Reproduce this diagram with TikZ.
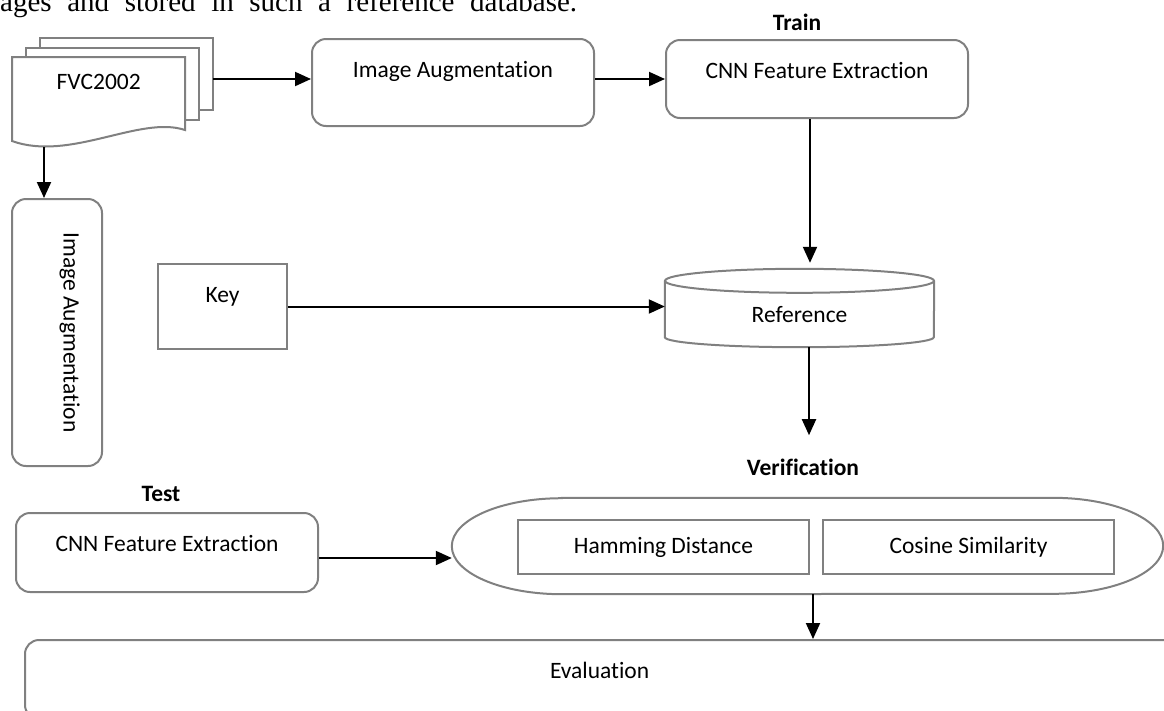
\documentclass[tikz,border=0pt]{standalone}
\usepackage{fontspec}
\setmainfont{Carlito}[Ligatures=NoCommon]
\newfontfamily\bodyserif{Liberation Serif}
\usetikzlibrary{positioning,arrows.meta}
\definecolor{edge}{HTML}{808080}
\newcommand\dgfont{\fontsize{23.5pt}{28pt}\selectfont}
\tikzset{
  outl/.style={draw=edge, line width=2pt},
  rbox/.style={outl, rounded corners=14pt, inner sep=0pt, text height=38.5pt},
  sbox/.style={outl, inner sep=0pt},
  phase/.style={font=\dgfont\bfseries, inner sep=0pt},
  arr/.style={line width=2pt, -{Triangle[length=16pt,width=14pt]}}}

\begin{document}
\begin{tikzpicture}[x=1pt, y=-1pt, font=\dgfont]
\useasboundingbox (0,0) rectangle (1164,710);
\clip (0,0) rectangle (1164,710);
\node[anchor=base west, inner sep=0pt, font=\bodyserif\fontsize{29pt}{34pt}\selectfont] (intro) at (0,11) {\makebox[577pt][s]{ages and stored in such a reference database.}};
\foreach \dx/\dy in {28/-19,14/-9.5}
  \draw[outl, fill=white] (12+\dx,57+\dy) rectangle (185+\dx,129+\dy);
\draw[outl, fill=white] (12,57) -- (185,57) -- (185,130) .. controls (140,115) and (70,162) .. (12,141) -- cycle;
\node[anchor=north west, minimum width=173pt, inner sep=0pt, text height=32pt, text depth=53pt] (fvc) at (12,57) {FVC2002};
\coordinate (stk) at (213,79);
\coordinate (fvcb) at (44,147);
\node[rbox, minimum width=282pt, text depth=48.5pt, anchor=north west] (aug) at (311,38) {Image Augmentation};
\node[rbox, minimum width=302pt, text depth=39.5pt, anchor=north west] (train) at (665,39) {CNN Feature Extraction};
\node[phase] (trainlab) at (797,22.5) {Train};
\node[rbox, rotate=-90, minimum width=267pt, text depth=51.5pt] (vaug) at (57,332.5) {Image Augmentation};
\node[sbox, minimum width=129pt, text height=38.5pt, text depth=46.5pt, anchor=north west] (key) at (157,263) {Key};
\node[minimum width=269pt, minimum height=78pt, inner sep=0pt, text height=40pt, text depth=11pt] (ref) at (799.5,308) {Reference};
\draw[outl] ([yshift=-12pt]ref.north) ellipse[x radius=134.5pt, y radius=12pt];
\draw[outl] ([yshift=-12pt]ref.north west) -- ([yshift=10pt]ref.south west) arc[start angle=180, end angle=360, x radius=134.5pt, y radius=10pt] -- ([yshift=-12pt]ref.north east);
\node[phase] (verlab) at (803,467.5) {Verification};
\node[phase] (testlab) at (161,494) {Test};
\node[rbox, minimum width=302pt, text depth=40.5pt, anchor=north west] (test) at (15,512) {CNN Feature Extraction};
\node[minimum width=711pt, minimum height=96pt, inner sep=0pt] (verif) at (807.5,546) {};
\draw[outl] ([xshift=110pt]verif.north west) -- ([xshift=-110pt]verif.north east) arc[start angle=90, end angle=-90, x radius=110pt, y radius=48pt] -- ([xshift=110pt]verif.south west) arc[start angle=270, end angle=90, x radius=110pt, y radius=48pt] -- cycle;
\node[sbox, minimum width=291pt, minimum height=54pt] (ham) at (663.5,547) {Hamming Distance};
\node[sbox, minimum width=291pt, minimum height=54pt, right=12pt of ham] (cos) {Cosine Similarity};
\node[rbox, anchor=north west, text width=1270pt, text depth=40.5pt, align=left] (eval) at (24,639) {\hspace*{525pt}Evaluation};
\draw[arr] (stk) -- (stk -| aug.west);
\draw[arr] (stk -| aug.east) -- (stk -| train.west);
\draw[arr, shorten >=6pt] ([xshift=-7pt]train.south) -- ([xshift=-7pt]train.south |- ref.north);
\draw[arr] (fvcb) -- (fvcb |- vaug.west);
\draw[arr] (key.east) -- (key.east -| ref.west);
\draw[arr] ([xshift=9.5pt]ref.south) -- ++(0,88);
\draw[arr] ([yshift=-5.5pt]test.east) -- ([yshift=-5.5pt]test.east -| verif.west);
\draw[arr] ([xshift=5.5pt]verif.south) -- ([xshift=5.5pt]verif.south |- eval.north);
\end{tikzpicture}
\end{document}
